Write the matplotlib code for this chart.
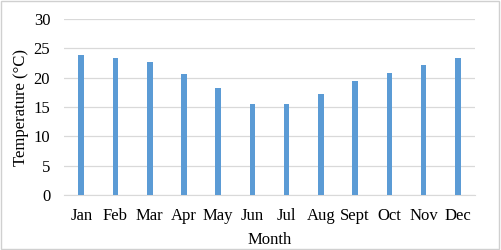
import matplotlib.pyplot as plt
from matplotlib.patches import Rectangle

months = ['Jan', 'Feb', 'Mar', 'Apr', 'May', 'Jun', 'Jul', 'Aug', 'Sept', 'Oct', 'Nov', 'Dec']
temps = [23.9, 23.3, 22.7, 20.6, 18.2, 15.5, 15.5, 17.2, 19.4, 20.8, 22.1, 23.3]
yticks = [0, 5, 10, 15, 20, 25, 30]

plt.rcParams['font.family'] = ['Liberation Serif', 'DejaVu Serif']
plt.rcParams['font.size'] = 12

fig = plt.figure(figsize=(5.01, 2.5), dpi=100)
ax = fig.add_axes([0.128, 0.22, 0.82, 0.704])

x = list(range(len(months)))
ax.bar(x, temps, width=0.165, color='#5b9bd5', zorder=3)

ax.set_xlim(-0.5, len(months) - 0.5)
ax.set_ylim(0, 30)
ax.set_yticks(yticks)
ax.set_xticks(x)
ax.set_xticklabels(months)
ax.grid(axis='y', color='#d9d9d9', linewidth=0.9, zorder=0)
for s in ['top', 'right', 'left']:
    ax.spines[s].set_visible(False)
ax.spines['bottom'].set_color('#d9d9d9')
ax.tick_params(axis='both', length=0, labelsize=12)
ax.tick_params(axis='y', pad=10)
ax.tick_params(axis='x', pad=9)
ax.set_ylabel('Temperature (°C)', fontsize=12, labelpad=3)
ax.set_xlabel('Month', fontsize=12, labelpad=6)

# light frame round the whole chart
fig.patches.append(Rectangle((0.002, 0.004), 0.995, 0.992, transform=fig.transFigure,
                             fill=False, edgecolor='#d0d0d0', linewidth=1))

fig.savefig('out.png', dpi=100)
